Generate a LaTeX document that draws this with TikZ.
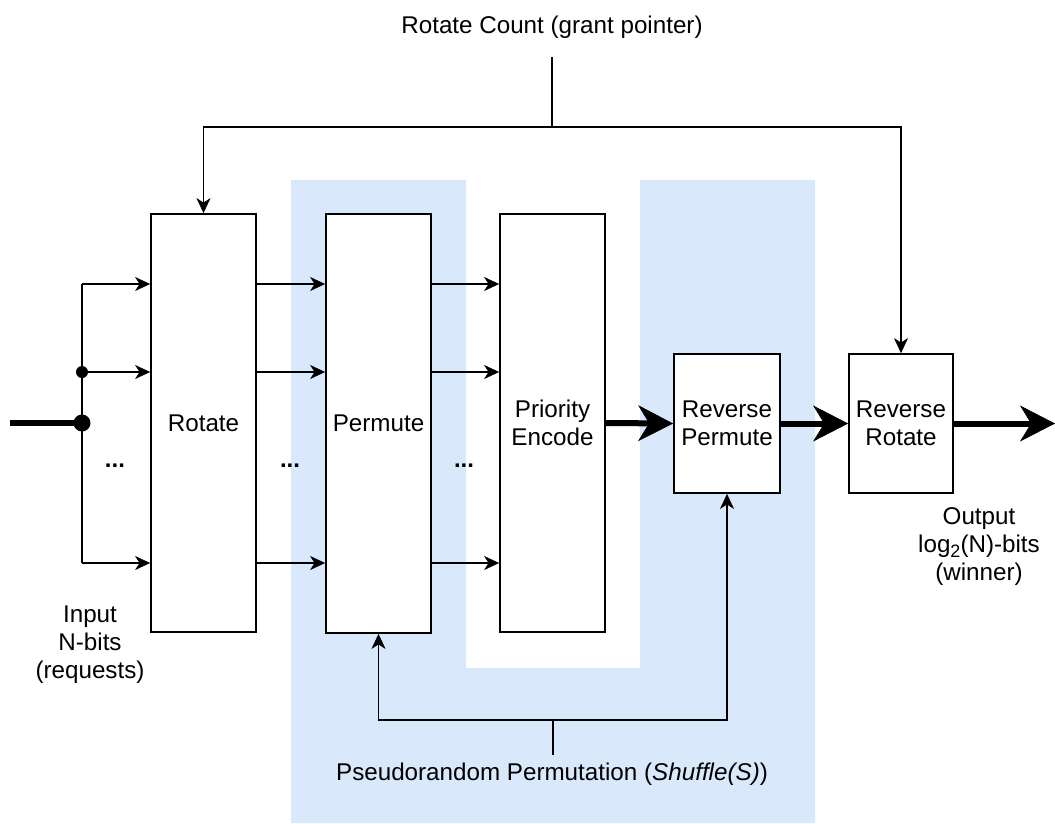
\documentclass[tikz,border=0pt]{standalone}
\usepackage{fontspec}
\setmainfont{Liberation Sans}
\usetikzlibrary{arrows.meta}
\definecolor{permblue}{HTML}{DAE8FC}
\newcommand{\lowtwo}{\raisebox{-0.35ex}{\fontsize{18}{18}\selectfont 2}}
\begin{document}
\begin{tikzpicture}[x=1pt, y=-1pt,
  txt/.style={font=\fontsize{24.2}{28}\selectfont},
  blk/.style={txt, draw, line width=1.8pt, fill=white, minimum width=105pt,
              inner sep=0pt, align=center},
  wire/.style={line width=1.8pt},
  sig/.style={wire, -{Stealth[length=15pt, width=14pt, inset=4.5pt, line width=0.5pt]}},
  bus/.style={line width=6pt, -{Stealth[length=35pt, width=36pt, inset=11pt, line width=0.5pt]}},
  lbl/.style={txt, align=center, inner sep=0pt},
  dots/.style={txt, inner sep=0pt, font=\fontsize{24}{28}\selectfont\bfseries}]

\useasboundingbox (0,0) rectangle (1055,823);

% shaded permutation stage (U shape around the priority encoder)
\fill[permblue] (291,180) -- (466,180) -- (466,668) -- (640,668) -- (640,180)
  -- (815,180) -- (815,823) -- (291,823) -- cycle;

% processing blocks
\node[blk, minimum height=418pt] (rot) at (203.5,423) {Rotate};
\node[blk, minimum height=419pt] (perm) at (378.5,423.5) {Permute};
\node[blk, minimum height=418pt] (prio) at (552.5,423) {Priority\\Encode};
\node[blk, minimum height=139pt, minimum width=106pt] (rperm) at (727,423.5) {Reverse\\Permute};
\node[blk, minimum height=139pt, minimum width=104pt] (rrot) at (901,423.5) {Reverse\\Rotate};

% bit lanes
\coordinate (r1) at (0,284);
\coordinate (r2) at (0,372);
\coordinate (r3) at (0,563);

% input fan-out
\coordinate (src) at (10,423);
\coordinate (fork) at (82,423);
\coordinate (ftop) at (82,284);
\coordinate (fmid) at (82,372);
\coordinate (fbot) at (82,563);
\draw[wire] (ftop) -- (fbot);
\draw[sig] (ftop) -- (rot.west |- r1);
\draw[sig] (fmid) -- (rot.west |- r2);
\draw[sig] (fbot) -- (rot.west |- r3);
\draw[line width=6pt] (src) -- (fork);
\fill (fork) circle (8.5pt);
\fill (fmid) circle (6pt);

% lanes between blocks
\foreach \r in {r1,r2,r3} {
  \draw[sig] (rot.east |- \r) -- (perm.west |- \r);
  \draw[sig] (perm.east |- \r) -- (prio.west |- \r);
}
\node[dots] (d1) at (115,466) {...};
\node[dots] (d2) at (290,466) {...};
\node[dots] (d3) at (464,466) {...};

% encoded index path
\coordinate (out) at (1055,423.5);
\draw[bus] (prio.east) -- (rperm.west);
\draw[bus] (rperm.east) -- (rrot.west);
\draw[bus] (rrot.east) -- (out);

% rotate count distribution
\node[lbl] (rc) at (552,27) {Rotate Count (grant pointer)};
\coordinate (rcs) at (552,57);
\coordinate (rcb) at (552,127);
\draw[wire] (rcs) -- (rcb);
\draw[sig] (rcb) -| (rot.north);
\draw[sig] (rcb) -| (rrot.north);

% permutation seed distribution
\node[lbl] (pr) at (552,774) {Pseudorandom Permutation (\textit{Shuffle(S)})};
\coordinate (prs) at (553,755);
\coordinate (prb) at (553,720);
\draw[wire] (prs) -- (prb);
\draw[sig] (prb) -| (perm.south);
\draw[sig] (prb) -| (rperm.south);

% port labels
\node[lbl] (inl) at (90,645) {Input\\N-bits\\(requests)};
\node[lbl] (outl) at (979,547) {Output\\log\lowtwo(N)-bits\\(winner)};
\end{tikzpicture}
\end{document}
